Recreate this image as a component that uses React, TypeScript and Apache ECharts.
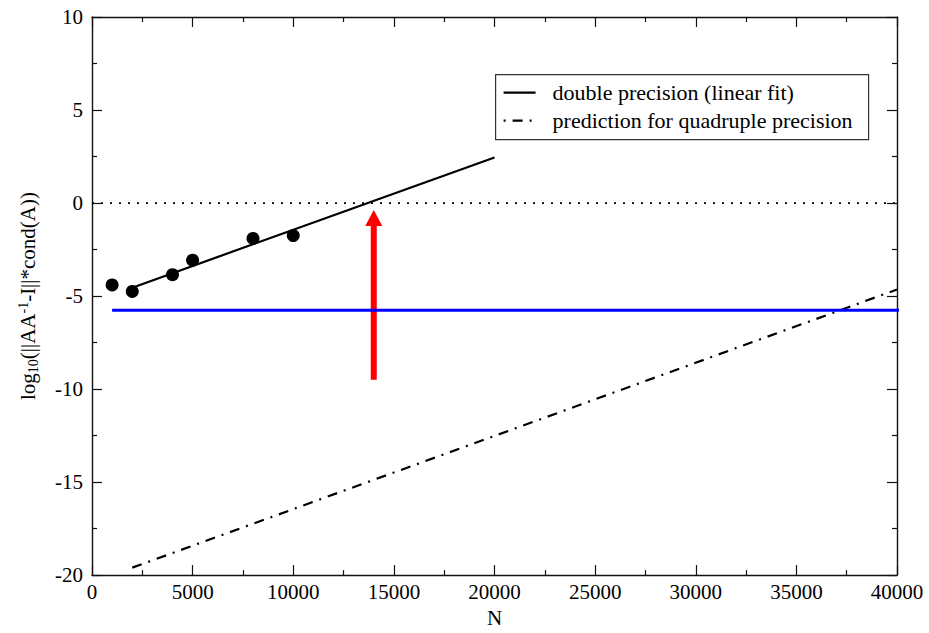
import React, { useEffect, useRef } from "react";
import * as echarts from "echarts";

const measuredN = [1000, 2000, 4000, 5000, 8000, 10000];
const measuredLog = [-4.4, -4.75, -3.85, -3.07, -1.9, -1.75];

const fitN = [2000, 20000];
const fitLog = [-4.55, 2.45];

const quadN = [2000, 40000];
const quadLog = [-19.6, -4.65];

const zeroN = [0, 40000];
const zeroLog = [0, 0];

const blueN = [1000, 40250];
const blueLog = [-5.77, -5.77];

const arrowN = [14000, 14000];
const arrowLog = [-9.5, -0.8];

const legendNames = ["double precision (linear fit)", "prediction for quadruple precision"];

const FONT = "'Liberation Serif', 'Times New Roman', serif";

export default function App() {
  const ref = useRef<HTMLDivElement>(null);
  useEffect(() => {
    if (!ref.current) return;
    const chart = echarts.init(ref.current, undefined, { renderer: "svg", width: 929, height: 633 });
    const axisLine = { show: true, onZero: false, lineStyle: { color: "#111", width: 1.4 } };
    const tick = { show: true, inside: true, length: 10, lineStyle: { color: "#111", width: 1.2 } };
    const minor = { show: true, splitNumber: 2, length: 5, lineStyle: { color: "#111", width: 1.2 } };
    const xBase = {
      type: "value" as const,
      min: 0,
      max: 40000,
      interval: 5000,
      axisLine,
      axisTick: tick,
      minorTick: minor,
      splitLine: { show: false },
    };
    const yBase = {
      type: "value" as const,
      min: -20,
      max: 10,
      interval: 5,
      axisLine,
      axisTick: tick,
      minorTick: minor,
      splitLine: { show: false },
    };
    const pts = (xs: number[], ys: number[]) => xs.map((x, i) => [x, ys[i]]);
    const legendX = 495;
    const legendY = 74;
    chart.setOption({
      animation: false,
      backgroundColor: "#fff",
      grid: { left: 92, right: 32, top: 17, bottom: 49 },
      graphic: [
        {
          type: "group",
          left: legendX,
          top: legendY,
          z: 100,
          children: [
            {
              type: "rect",
              shape: { x: 0, y: 0, width: 373, height: 65 },
              style: { fill: "#fff", stroke: "#333", lineWidth: 1.2 },
            },
            {
              type: "line",
              shape: { x1: 8, y1: 18, x2: 40, y2: 18 },
              style: { stroke: "#000", lineWidth: 2.2 },
            },
            {
              type: "line",
              shape: { x1: 8, y1: 46, x2: 40, y2: 46 },
              style: { stroke: "#000", lineWidth: 2.2, lineDash: [2, 7, 10, 7] },
            },
            {
              type: "text",
              x: 57,
              y: 18,
              style: {
                text: legendNames[0],
                font: `22px ${FONT}`,
                fill: "#000",
                verticalAlign: "middle",
              },
            },
            {
              type: "text",
              x: 57,
              y: 46,
              style: {
                text: legendNames[1],
                font: `22px ${FONT}`,
                fill: "#000",
                verticalAlign: "middle",
              },
            },
          ],
        },
      ],
      xAxis: [
        {
          ...xBase,
          position: "bottom",
          name: "N",
          nameLocation: "middle",
          nameGap: 31,
          nameTextStyle: { fontFamily: FONT, fontSize: 21, color: "#000" },
          axisLabel: { fontFamily: FONT, fontSize: 21, color: "#000", margin: 6, formatter: (v: number) => String(v) },
        },
        { ...xBase, position: "top", axisLabel: { show: false } },
      ],
      yAxis: [
        {
          ...yBase,
          position: "left",
          name: "{a|log}{sub|10}{a|(||AA}{sup|-1}{a|-I||*cond(A))}",
          nameLocation: "middle",
          nameGap: 52,
          nameTextStyle: {
            rich: {
              a: { fontFamily: FONT, fontSize: 21, color: "#000", lineHeight: 24, verticalAlign: "middle" },
              sub: { fontFamily: FONT, fontSize: 14, color: "#000", lineHeight: 14, verticalAlign: "bottom" },
              sup: { fontFamily: FONT, fontSize: 14, color: "#000", lineHeight: 14, verticalAlign: "top" },
            },
          },
          axisLabel: { fontFamily: FONT, fontSize: 21, color: "#000", margin: 9, formatter: (v: number) => String(v) },
        },
        { ...yBase, position: "right", axisLabel: { show: false } },
      ],
      series: [
        {
          type: "line",
          name: "zero",
          data: pts(zeroN, zeroLog),
          symbol: "none",
          lineStyle: { color: "#000", width: 1.8, type: [2, 7] },
        },
        {
          type: "line",
          name: legendNames[0],
          data: pts(fitN, fitLog),
          symbol: "none",
          lineStyle: { color: "#000", width: 2.2, type: "solid" },
        },
        {
          type: "scatter",
          name: "measured",
          data: pts(measuredN, measuredLog),
          symbol: "circle",
          symbolSize: 13,
          itemStyle: { color: "#000", opacity: 1 },
        },
        {
          type: "line",
          name: legendNames[1],
          data: pts(quadN, quadLog),
          symbol: "none",
          lineStyle: { color: "#000", width: 2.2, type: [10, 7, 2, 7] },
        },
        {
          type: "line",
          name: "arrow",
          data: [
            { value: [arrowN[0], arrowLog[0]], symbol: "none" },
            { value: [arrowN[1], arrowLog[1]], symbol: "triangle", symbolSize: [17, 16] },
          ],
          showSymbol: true,
          lineStyle: { color: "#ff0000", width: 6 },
          itemStyle: { color: "#ff0000" },
        },
        {
          type: "line",
          name: "blue",
          data: pts(blueN, blueLog),
          symbol: "none",
          clip: false,
          lineStyle: { color: "#0000ff", width: 3 },
        },
      ],
    });
    return () => chart.dispose();
  }, []);
  return <div ref={ref} style={{ position: "absolute", left: 0, top: 0, width: 929, height: 633 }} />;
}
